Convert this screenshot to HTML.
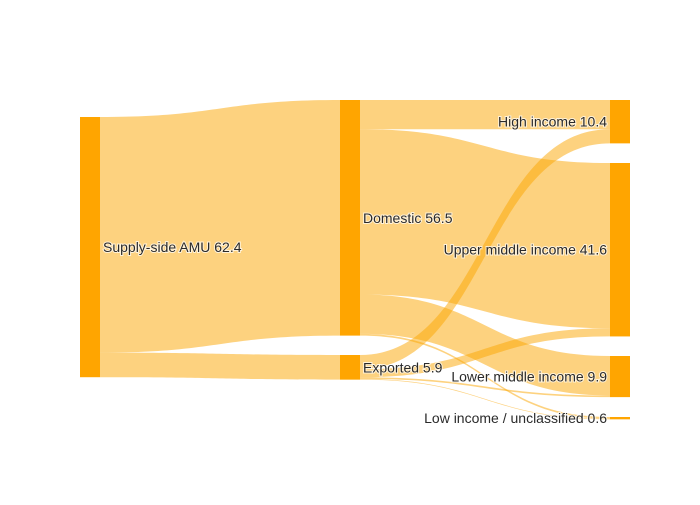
<!DOCTYPE html>
<html><head><meta charset="utf-8"><style>
body{margin:0;background:#fff}
svg text{font-family:"Liberation Sans",Arial,sans-serif;font-size:14px;fill:#2a2a2a;paint-order:stroke;stroke:#fff;stroke-width:2px;stroke-opacity:.7}
</style></head><body>
<svg id="c" width="700" height="500" xmlns="http://www.w3.org/2000/svg">
<rect width="700" height="500" fill="#fff"/>
<g id="links"></g>
<g id="nodes"></g>
</svg>
<script>
const nodeNames = ["Supply-side AMU","Domestic","Exported","High income","Upper middle income","Lower middle income","Low income / unclassified"];
const linkSources = [0,0,1,1,1,1,2,2,2,2];
const linkTargets = [1,2,3,4,5,6,3,4,5,6];
const linkValues = [56.5,5.9,7.0,39.64,9.46,0.4,3.4,1.95,0.4,0.16];

const NS="http://www.w3.org/2000/svg";
const k=4.17, nw=20;
const colX=[80,340,340,610,610,610,610];
const nodeY0=[117,100,355,100,163,356,417];
const inV=nodeNames.map(()=>0), outV=nodeNames.map(()=>0);
linkValues.forEach((v,i)=>{outV[linkSources[i]]+=v;inV[linkTargets[i]]+=v;});
const nodeV=nodeNames.map((_,i)=>Math.max(inV[i],outV[i]));
const outOff=nodeNames.map(()=>0), inOff=nodeNames.map(()=>0);
const lg=document.getElementById('links'), ng=document.getElementById('nodes');
linkValues.forEach((v,i)=>{
  const s=linkSources[i], t=linkTargets[i], h=v*k;
  const sy=nodeY0[s]+outOff[s], ty=nodeY0[t]+inOff[t];
  outOff[s]+=h; inOff[t]+=h;
  const x0=colX[s]+nw, x1=colX[t], xm=(x0+x1)/2;
  const p=document.createElementNS(NS,'path');
  p.setAttribute('d',`M${x0},${sy}C${xm},${sy} ${xm},${ty} ${x1},${ty}L${x1},${ty+h}C${xm},${ty+h} ${xm},${sy+h} ${x0},${sy+h}Z`);
  p.setAttribute('fill','rgba(252,166,0,0.5)');
  
  
  lg.appendChild(p);
});
nodeNames.forEach((n,i)=>{
  const h=Math.max(nodeV[i]*k,2);
  const r=document.createElementNS(NS,'rect');
  r.setAttribute('x',colX[i]);r.setAttribute('y',nodeY0[i]);r.setAttribute('width',nw);r.setAttribute('height',h);
  r.setAttribute('fill','#ffa500');
  
  
  ng.appendChild(r);
  const tx=document.createElementNS(NS,'text');
  const right=colX[i]===610;
  tx.setAttribute('x',right?colX[i]-3:colX[i]+nw+3);
  tx.setAttribute('y',nodeY0[i]+h/2+5);
  tx.setAttribute('text-anchor',right?'end':'start');
  tx.textContent=n+' '+(Math.round(nodeV[i]*10)/10).toFixed(1);
  
  
  ng.appendChild(tx);
});
</script>
</body></html>
